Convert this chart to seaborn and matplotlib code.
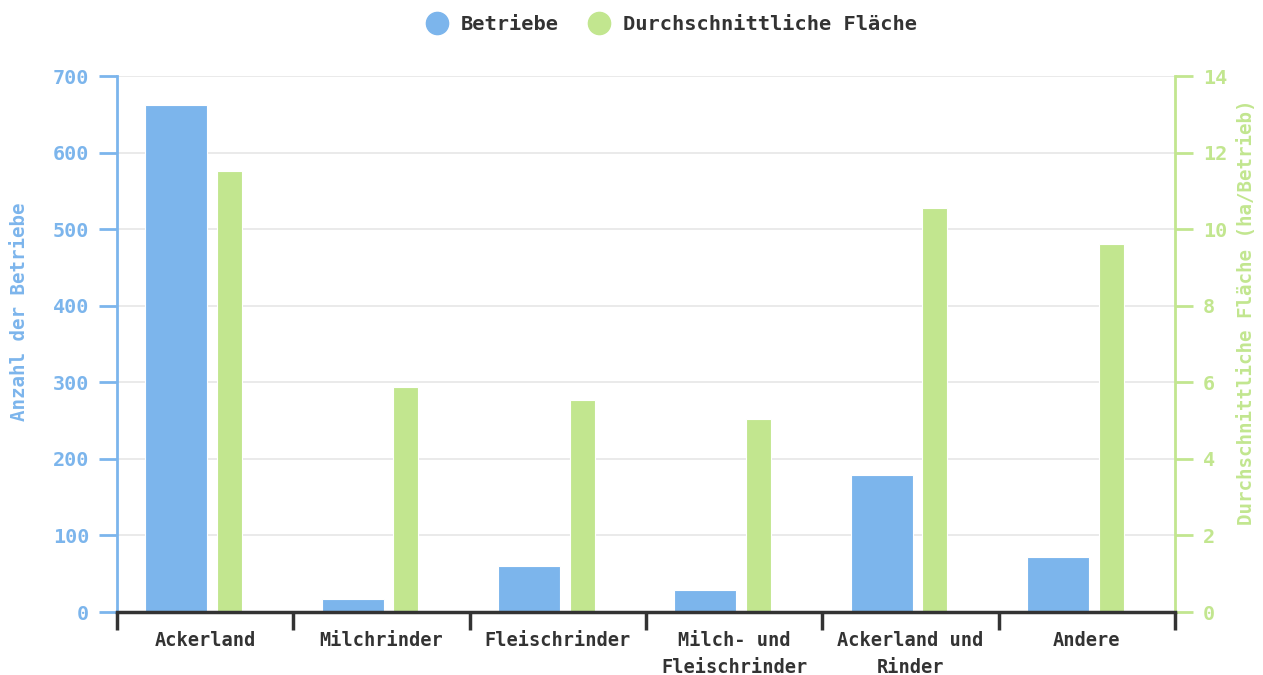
import matplotlib
matplotlib.use("Agg")
import matplotlib.pyplot as plt
from matplotlib.lines import Line2D
import seaborn as sns
import numpy as np

categories = ["Ackerland", "Milchrinder", "Fleischrinder",
              "Milch- und\nFleischrinder", "Ackerland und\nRinder", "Andere"]
betriebe = [662, 17, 60, 29, 179, 72]
flaeche = [11.52, 5.88, 5.54, 5.04, 10.55, 9.61]

left_ticks = [0, 100, 200, 300, 400, 500, 600, 700]
right_ticks = [0, 2, 4, 6, 8, 10, 12, 14]

BLUE = "#7cb5ec"
GREEN = "#c2e68f"
DARK = "#333333"
FONT = "DejaVu Sans Mono"

sns.set_theme(style="white")
plt.rcParams["font.family"] = [FONT, "DejaVu Sans"]
plt.rcParams["font.weight"] = "bold"

fig = plt.figure(figsize=(12.63, 6.75), dpi=100)
ax = fig.add_axes([117 / 1263, 63 / 675, 1058 / 1263, 536 / 675])
ax2 = ax.twinx()

# left series: wide bars shifted left of the category centre
sns.barplot(x=categories, y=betriebe, ax=ax, color=BLUE, width=0.352,
            saturation=1, edgecolor="white", linewidth=0.8)
for p in ax.patches:
    p.set_x(p.get_x() - 0.164)

# right series: narrow bars to the right of the centre
sns.barplot(x=categories, y=flaeche, ax=ax2, color=GREEN, width=0.142,
            saturation=1, edgecolor="white", linewidth=0.8)
for p in ax2.patches:
    p.set_x(p.get_x() + 0.138)

ax.set_xlim(-0.5, len(categories) - 0.5)
ax.set_ylim(0, 700)
ax2.set_ylim(0, 14)
ax.set_yticks(left_ticks)
ax2.set_yticks(right_ticks)

ax.yaxis.grid(True, color="#e6e6e6", linewidth=1.2)
ax.set_axisbelow(True)
ax2.grid(False)

for a in (ax, ax2):
    for s in a.spines.values():
        s.set_visible(False)

ax.spines["left"].set_visible(True)
ax.spines["left"].set_color(BLUE)
ax.spines["left"].set_linewidth(2)
ax2.spines["right"].set_visible(True)
ax2.spines["right"].set_color(GREEN)
ax2.spines["right"].set_linewidth(2)
ax2.spines["bottom"].set_visible(True)
ax2.spines["bottom"].set_color(DARK)
ax2.spines["bottom"].set_linewidth(2.5)
ax2.spines["bottom"].set_zorder(5)

ax.tick_params(axis="y", colors=BLUE, length=13, width=2, direction="out",
               labelsize=14.5, pad=7, left=True)
ax2.tick_params(axis="y", colors=GREEN, length=13, width=2, direction="out",
                labelsize=14.5, pad=7, right=True)

# category ticks on the boundaries, labels in the middle
ax.set_xticks(np.arange(len(categories)))
ax.set_xticklabels(categories, fontsize=13.4, fontweight="bold", color=DARK,
                   linespacing=1.5)
ax.tick_params(axis="x", length=0, pad=14)
for xb in np.arange(-0.5, len(categories), 1.0):
    ax2.plot([xb, xb], [0, -0.034], transform=ax2.get_xaxis_transform(),
             color=DARK, linewidth=2.5, clip_on=False, zorder=6,
             solid_capstyle="butt")
ax.set_xlabel("")

for t in ax.get_yticklabels():
    t.set_fontweight("bold")
for t in ax2.get_yticklabels():
    t.set_fontweight("bold")

ax.set_ylabel("Anzahl der Betriebe", color=BLUE, fontsize=13.8,
              fontweight="bold")
ax2.set_ylabel("Durchschnittliche Fläche (ha/Betrieb)", color=GREEN,
               fontsize=13.8, fontweight="bold", rotation=90)
ax.yaxis.set_label_coords(-0.083, 0.56)
ax2.yaxis.set_label_coords(1.0586, 0.56)

handles = [
    Line2D([], [], marker="o", linestyle="", markersize=16,
           markerfacecolor=BLUE, markeredgecolor=BLUE, label="Betriebe"),
    Line2D([], [], marker="o", linestyle="", markersize=16,
           markerfacecolor=GREEN, markeredgecolor=GREEN,
           label="Durchschnittliche Fläche"),
]
leg = fig.legend(handles=handles, loc="upper center",
                 bbox_to_anchor=(0.528, 1.005), ncol=2, frameon=False,
                 prop={"family": FONT, "weight": "bold", "size": 14.7},
                 handletextpad=0.15, columnspacing=1.0, borderaxespad=0.5)
for t in leg.get_texts():
    t.set_color(DARK)

fig.savefig("out.png", dpi=100, facecolor="white")
